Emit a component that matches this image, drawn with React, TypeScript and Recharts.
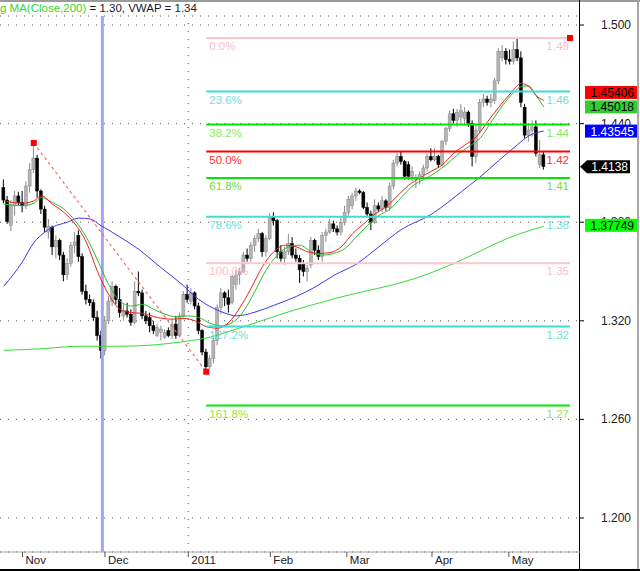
import {
    ComposedChart,
    Bar,
    Line,
    XAxis,
    YAxis,
    CartesianGrid,
    ReferenceLine,
    ReferenceDot,
} from "recharts";

// bar 0 = 25 Oct 2010 ... bar 144 = 13 May 2011 (daily EUR/USD)
const opens = [
    1.4010, 1.3935, 1.3780, 1.3900, 1.3960, 1.3920, 1.3900, 1.4020, 1.4120, 1.4190,
    1.3990, 1.3880, 1.3740, 1.3770, 1.3650, 1.3690, 1.3600, 1.3480, 1.3550, 1.3660,
    1.3720, 1.3590, 1.3380, 1.3330, 1.3310, 1.3220, 1.3110, 1.3020, 1.3200, 1.3320,
    1.3410, 1.3330, 1.3230, 1.3260, 1.3240, 1.3190, 1.3380, 1.3370, 1.3230, 1.3220,
    1.3170, 1.3110, 1.3130, 1.3100, 1.3140, 1.3110, 1.3180, 1.3110, 1.3230, 1.3360,
    1.3320, 1.3370, 1.3290, 1.3140, 1.3010, 1.2920, 1.2970, 1.3080, 1.3280, 1.3370,
    1.3340, 1.3310, 1.3420, 1.3480, 1.3500, 1.3600, 1.3580, 1.3660, 1.3700, 1.3730,
    1.3620, 1.3700, 1.3830, 1.3810, 1.3620, 1.3580, 1.3620, 1.3670, 1.3600, 1.3580,
    1.3545, 1.3500, 1.3540, 1.3690, 1.3630, 1.3590, 1.3720, 1.3740, 1.3790, 1.3760,
    1.3740, 1.3800, 1.3860, 1.3900, 1.3960, 1.3990, 1.3980, 1.3890, 1.3850, 1.3800,
    1.3900, 1.3880, 1.3930, 1.3890, 1.4020, 1.4160, 1.4200, 1.4170, 1.4150, 1.4080,
    1.4060, 1.4070, 1.4090, 1.4130, 1.4200, 1.4180, 1.4200, 1.4150, 1.4290, 1.4370,
    1.4460, 1.4420, 1.4440, 1.4430, 1.4470, 1.4400, 1.4200, 1.4360, 1.4530, 1.4550,
    1.4530, 1.4540, 1.4660, 1.4800, 1.4840, 1.4790, 1.4780, 1.4850, 1.4800, 1.4500,
    1.4330, 1.4360, 1.4380, 1.4150, 1.4210,
];
const highs = [
    1.4060, 1.3960, 1.3935, 1.3990, 1.3985, 1.3990, 1.4050, 1.4160, 1.4282, 1.4210,
    1.4000, 1.3900, 1.3820, 1.3780, 1.3720, 1.3700, 1.3620, 1.3580, 1.3680, 1.3740,
    1.3750, 1.3610, 1.3420, 1.3360, 1.3330, 1.3260, 1.3140, 1.3230, 1.3350, 1.3440,
    1.3420, 1.3400, 1.3300, 1.3310, 1.3270, 1.3440, 1.3500, 1.3390, 1.3260, 1.3250,
    1.3200, 1.3180, 1.3170, 1.3150, 1.3160, 1.3210, 1.3230, 1.3250, 1.3380, 1.3420,
    1.3400, 1.3380, 1.3310, 1.3150, 1.3030, 1.2990, 1.3100, 1.3300, 1.3400, 1.3380,
    1.3390, 1.3480, 1.3510, 1.3520, 1.3620, 1.3640, 1.3680, 1.3720, 1.3760, 1.3740,
    1.3720, 1.3856, 1.3860, 1.3820, 1.3660, 1.3650, 1.3730, 1.3710, 1.3640, 1.3600,
    1.3570, 1.3540, 1.3710, 1.3700, 1.3660, 1.3740, 1.3760, 1.3820, 1.3810, 1.3780,
    1.3830, 1.3900, 1.3960, 1.3980, 1.4010, 1.4000, 1.3990, 1.3920, 1.3870, 1.3940,
    1.3920, 1.3960, 1.3940, 1.4040, 1.4180, 1.4220, 1.4230, 1.4180, 1.4170, 1.4140,
    1.4090, 1.4110, 1.4150, 1.4220, 1.4250, 1.4250, 1.4210, 1.4300, 1.4380, 1.4480,
    1.4490, 1.4490, 1.4520, 1.4500, 1.4480, 1.4420, 1.4400, 1.4550, 1.4580, 1.4570,
    1.4580, 1.4680, 1.4860, 1.4880, 1.4860, 1.4850, 1.4900, 1.4915, 1.4840, 1.4520,
    1.4400, 1.4420, 1.4420, 1.4300, 1.4230,
];
const lows = [
    1.3915, 1.3790, 1.3745, 1.3840, 1.3900, 1.3860, 1.3880, 1.3980, 1.4100, 1.3950,
    1.3850, 1.3740, 1.3700, 1.3600, 1.3580, 1.3570, 1.3440, 1.3450, 1.3530, 1.3610,
    1.3560, 1.3360, 1.3300, 1.3290, 1.3200, 1.3080, 1.2970, 1.2990, 1.3180, 1.3290,
    1.3300, 1.3220, 1.3200, 1.3220, 1.3170, 1.3180, 1.3350, 1.3210, 1.3180, 1.3130,
    1.3120, 1.3100, 1.3080, 1.3090, 1.3100, 1.3090, 1.3090, 1.3100, 1.3220, 1.3310,
    1.3300, 1.3270, 1.3120, 1.2990, 1.2890, 1.2905, 1.2940, 1.3050, 1.3240, 1.3290,
    1.3250, 1.3300, 1.3390, 1.3420, 1.3490, 1.3560, 1.3560, 1.3620, 1.3680, 1.3590,
    1.3590, 1.3690, 1.3780, 1.3580, 1.3560, 1.3540, 1.3600, 1.3580, 1.3560, 1.3430,
    1.3470, 1.3440, 1.3520, 1.3600, 1.3570, 1.3560, 1.3680, 1.3730, 1.3740, 1.3720,
    1.3720, 1.3780, 1.3840, 1.3880, 1.3930, 1.3970, 1.3880, 1.3830, 1.3752, 1.3790,
    1.3860, 1.3860, 1.3870, 1.3870, 1.4000, 1.4140, 1.4150, 1.4060, 1.4060, 1.4050,
    1.4010, 1.4030, 1.4060, 1.4110, 1.4170, 1.4170, 1.4130, 1.4140, 1.4270, 1.4350,
    1.4400, 1.4380, 1.4400, 1.4390, 1.4380, 1.4140, 1.4160, 1.4340, 1.4500, 1.4510,
    1.4500, 1.4520, 1.4640, 1.4780, 1.4760, 1.4760, 1.4760, 1.4780, 1.4500, 1.4310,
    1.4290, 1.4320, 1.4200, 1.4130, 1.4120,
];
const closes = [
    1.3935, 1.3805, 1.3905, 1.3960, 1.3920, 1.3900, 1.4020, 1.4120, 1.4190, 1.3990,
    1.3880, 1.3770, 1.3775, 1.3650, 1.3690, 1.3600, 1.3480, 1.3550, 1.3660, 1.3680,
    1.3590, 1.3380, 1.3330, 1.3310, 1.3220, 1.3110, 1.3020, 1.3200, 1.3320, 1.3410,
    1.3330, 1.3250, 1.3260, 1.3240, 1.3190, 1.3380, 1.3370, 1.3230, 1.3200, 1.3170,
    1.3140, 1.3160, 1.3150, 1.3130, 1.3110, 1.3180, 1.3110, 1.3230, 1.3360, 1.3330,
    1.3370, 1.3290, 1.3140, 1.3010, 1.2920, 1.2970, 1.3080, 1.3280, 1.3370, 1.3340,
    1.3300, 1.3470, 1.3480, 1.3500, 1.3600, 1.3580, 1.3660, 1.3700, 1.3730, 1.3620,
    1.3700, 1.3830, 1.3810, 1.3620, 1.3580, 1.3620, 1.3670, 1.3600, 1.3580, 1.3510,
    1.3500, 1.3520, 1.3690, 1.3630, 1.3590, 1.3720, 1.3740, 1.3790, 1.3760, 1.3740,
    1.3800, 1.3860, 1.3940, 1.3960, 1.3990, 1.3980, 1.3890, 1.3850, 1.3800, 1.3900,
    1.3880, 1.3930, 1.3890, 1.4020, 1.4160, 1.4200, 1.4170, 1.4080, 1.4080, 1.4110,
    1.4070, 1.4090, 1.4130, 1.4200, 1.4180, 1.4200, 1.4150, 1.4290, 1.4370, 1.4460,
    1.4420, 1.4470, 1.4480, 1.4470, 1.4400, 1.4200, 1.4360, 1.4530, 1.4550, 1.4530,
    1.4550, 1.4660, 1.4840, 1.4840, 1.4790, 1.4780, 1.4850, 1.4800, 1.4530, 1.4330,
    1.4360, 1.4380, 1.4220, 1.4210, 1.4138,
];

// moving averages: [bar, value]
const redMA = [
    [0, 1.3930], [5, 1.3915], [8, 1.3930], [10, 1.3960], [13, 1.3910], [16, 1.3860],
    [19, 1.3790], [22, 1.3680], [25, 1.3500], [28, 1.3360], [31, 1.3270], [34, 1.3250],
    [37, 1.3245], [41, 1.3220], [45, 1.3210], [48, 1.3215], [51, 1.3200], [54, 1.3165],
    [57, 1.3155], [60, 1.3190], [63, 1.3280], [66, 1.3400], [69, 1.3530], [72, 1.3620],
    [75, 1.3660], [78, 1.3650], [81, 1.3620], [84, 1.3610], [87, 1.3615], [90, 1.3650],
    [93, 1.3730], [96, 1.3790], [99, 1.3850], [102, 1.3895], [105, 1.3960], [108, 1.4025],
    [111, 1.4070], [114, 1.4110], [117, 1.4150], [120, 1.4220], [123, 1.4270], [126, 1.4320],
    [129, 1.4410], [132, 1.4500], [135, 1.4580], [138, 1.4645], [140, 1.4625], [142, 1.4570],
    [144, 1.4541],
];
const greenMA = [
    [0, 1.3910], [5, 1.3900], [8, 1.3915], [10, 1.3950], [13, 1.3920], [16, 1.3880],
    [19, 1.3810], [22, 1.3710], [25, 1.3570], [28, 1.3420], [31, 1.3320], [34, 1.3290],
    [37, 1.3300], [40, 1.3270], [43, 1.3240], [46, 1.3225], [49, 1.3230], [52, 1.3220],
    [55, 1.3185], [58, 1.3170], [61, 1.3190], [64, 1.3260], [67, 1.3380], [70, 1.3510],
    [73, 1.3600], [76, 1.3650], [79, 1.3660], [82, 1.3620], [85, 1.3600], [88, 1.3610],
    [91, 1.3640], [94, 1.3710], [97, 1.3780], [100, 1.3840], [103, 1.3880], [106, 1.3950],
    [109, 1.4020], [112, 1.4060], [115, 1.4100], [118, 1.4150], [121, 1.4210], [124, 1.4260],
    [127, 1.4310], [130, 1.4410], [133, 1.4510], [136, 1.4590], [138, 1.4625], [140, 1.4630],
    [142, 1.4570], [144, 1.4502],
];
const blueMA = [
    [0, 1.3410], [5, 1.3560], [8, 1.3675], [11, 1.3740], [13, 1.3770], [17, 1.3800],
    [20, 1.3825], [23, 1.3820], [26, 1.3778], [28, 1.3752], [31, 1.3710], [36, 1.3635],
    [42, 1.3522], [47, 1.3432], [52, 1.3330], [57, 1.3265], [59, 1.3247], [62, 1.3230],
    [67, 1.3253], [72, 1.3294], [78, 1.3348], [83, 1.3405], [88, 1.3476], [94, 1.3545],
    [100, 1.3650], [106, 1.3755], [114, 1.3848], [119, 1.3930], [122, 1.3985], [127, 1.4075],
    [132, 1.4175], [137, 1.4272], [140, 1.4325], [144, 1.4355],
];
const longMA = [
    [0, 1.3020], [10, 1.3030], [20, 1.3045], [30, 1.3045], [38, 1.3050], [44, 1.3062],
    [50, 1.3080], [55, 1.3100], [60, 1.3135], [65, 1.3172], [70, 1.3210], [76, 1.3255],
    [82, 1.3295], [89, 1.3340], [96, 1.3378], [103, 1.3415], [110, 1.3460], [117, 1.3520],
    [124, 1.3590], [131, 1.3668], [137, 1.3725], [144, 1.3775],
];

// fibonacci retracement
const fibPct = ["0.0%", "23.6%", "38.2%", "50.0%", "61.8%", "78.6%", "100.0%", "127.2%", "161.8%"];
const fibLevels = [1.4921, 1.4595, 1.4394, 1.4230, 1.4069, 1.3834, 1.3551, 1.3165, 1.2684];
const fibPrices = ["1.49", "1.46", "1.44", "1.42", "1.41", "1.38", "1.35", "1.32", "1.27"];
const fibStart = 54;
const fibEnd = 151;

const swingHigh = { i: 8, v: 1.4282 };
const swingLow = { i: 54, v: 1.2890 };
const markerBar = 26.3;

const monthTicks = [5, 27, 49.2, 71.1, 91.5, 114.2, 134.7];
const monthLabels = ["Nov", "Dec", "2011", "Feb", "Mar", "Apr", "May"];
const yearTick = 49.2;
const priceTicks = [1.2, 1.26, 1.32, 1.38, 1.44, 1.5];

// last values shown in the price scale
const tagValues = [1.45018, 1.45406, 1.43545, 1.37749];
const tagTexts = ["1.45018", "1.45406", "1.43545", "1.37749"];
const lastClose = 1.4138;

const X_DOMAIN = [-1, 153.67];
const Y_DOMAIN = [1.1793, 1.5055];
const FONT = "'Liberation Sans', Arial, sans-serif";

const fibLine = ["#ffc4cc", "#40dcd4", "#00e800", "#ff0000", "#00e800", "#40dcd4", "#ffc4cc", "#40dcd4", "#00e800"];
const fibText = ["#ffbcc6", "#6ee0dc", "#8be860", "#ff3030", "#66dd44", "#6ee0dc", "#ffbcc6", "#6ee0dc", "#90e840"];
const tagFill = ["#33cc33", "#ff0000", "#0000ff", "#00ff00"];
const tagInk = ["#000", "#000", "#fff", "#000"];
const tagShift = [0, -8, 0, -1];

const rows = closes.map((c, i) => ({
    i,
    open: opens[i],
    high: highs[i],
    low: lows[i],
    close: c,
    red: null as number | null,
    green: null as number | null,
    blue: null as number | null,
    long: null as number | null,
}));
redMA.forEach(([i, v]) => (rows[i].red = v));
greenMA.forEach(([i, v]) => (rows[i].green = v));
blueMA.forEach(([i, v]) => (rows[i].blue = v));
longMA.forEach(([i, v]) => (rows[i].long = v));

const Candle = (props: any) => {
    const { x, y, width, height, payload } = props;
    if (!payload || x == null) return null;
    const top = Math.min(y, y + height);
    const h = Math.abs(height);
    const span = payload.high - payload.low || 1;
    const py = (v: number) => top + ((payload.high - v) / span) * h;
    const up = payload.close >= payload.open;
    const cx = x + width / 2;
    const b1 = py(Math.max(payload.open, payload.close));
    const b2 = py(Math.min(payload.open, payload.close));
    return (
        <g>
            <line x1={cx} x2={cx} y1={top} y2={top + h} stroke={up ? "#8a8a8a" : "#000"} strokeWidth={1} />
            <rect
                x={x}
                y={b1}
                width={width}
                height={Math.max(1, b2 - b1)}
                fill={up ? "#b4b4b4" : "#000"}
                stroke={up ? "#888" : "#000"}
                strokeWidth={0.5}
            />
        </g>
    );
};

const MonthTick = (props: any) => {
    const { x, y, index } = props;
    return (
        <g>
            <line x1={x} x2={x} y1={y} y2={y + 5} stroke="#555" />
            <text x={x + 3} y={y + 12} fontSize={11.5} fontFamily={FONT} fill="#202020">
                {monthLabels[index]}
            </text>
        </g>
    );
};

const PriceTick = (props: any) => {
    const { x, y, payload } = props;
    return (
        <text x={x + 47} y={y + 4} textAnchor="end" fontSize={12} fontFamily={FONT} fill="#202020">
            {Number(payload.value).toFixed(3)}
        </text>
    );
};

const FibLabel = ({ viewBox, pct, price, color }: any) => {
    if (!viewBox) return null;
    const { x, y, width } = viewBox;
    return (
        <g fontSize={11.5} fontFamily={FONT} fill={color}>
            <text x={x + 3} y={y + 12}>{pct}</text>
            <text x={x + width - 1} y={y + 12} textAnchor="end">{price}</text>
        </g>
    );
};

const ValueTag = ({ viewBox, text, fill, ink, shift }: any) => {
    if (!viewBox) return null;
    const left = viewBox.x + viewBox.width + 5;
    const cy = viewBox.y + shift;
    return (
        <g>
            <rect x={left} y={cy - 6.5} width={52} height={13} fill={fill} />
            <text x={left + 49} y={cy + 4.5} textAnchor="end" fontSize={12} fontFamily={FONT} fill={ink}>
                {text}
            </text>
        </g>
    );
};

const CloseTag = ({ viewBox, text }: any) => {
    if (!viewBox) return null;
    const tip = viewBox.x + viewBox.width;
    const cy = viewBox.y;
    const pts = `${tip},${cy} ${tip + 7},${cy - 6.5} ${tip + 50},${cy - 6.5} ${tip + 50},${cy + 6.5} ${tip + 7},${cy + 6.5}`;
    return (
        <g>
            <polygon points={pts} fill="#000" />
            <text x={tip + 48} y={cy + 4.5} textAnchor="end" fontSize={12} fontFamily={FONT} fill="#fff">
                {text}
            </text>
        </g>
    );
};

const Square = (p: any) => <rect x={p.cx - 3} y={p.cy - 3} width={6} height={6} fill="#ff0000" />;

export default function App() {
    return (
        <div style={{ position: "absolute", left: 0, top: 0, width: 640, height: 571, background: "#fff", overflow: "hidden" }}>
            <div style={{ position: "absolute", left: 0, top: 0, width: 640, height: 2, background: "#9a9a9a" }} />
            <div style={{ position: "absolute", left: 579, top: 0, width: 1, height: 571, background: "#000" }} />
            <div style={{ position: "absolute", left: 637, top: 0, width: 2, height: 571, background: "#a8a8a8" }} />
            <div style={{ position: "absolute", left: 0, top: 569, width: 640, height: 2, background: "#000" }} />
            <div
                style={{
                    position: "absolute",
                    left: 0,
                    top: 2,
                    fontFamily: FONT,
                    fontSize: 11.5,
                    lineHeight: "13px",
                    whiteSpace: "nowrap",
                }}
            >
                <span style={{ color: "#33d633" }}>g MA(Close,200)</span>
                <span style={{ color: "#1a1a2a" }}> = 1.30, VWAP = 1.34</span>
            </div>

            {/* price chart */}
            <div style={{ position: "absolute", left: 0, top: 0 }}>
                <ComposedChart
                    width={640}
                    height={571}
                    data={rows}
                    margin={{ top: 16, right: 0, bottom: 0, left: 0 }}
                >
                    <CartesianGrid horizontal vertical={false} stroke="#505050" strokeDasharray="1 7" />
                    <XAxis
                        dataKey="i"
                        type="number"
                        domain={X_DOMAIN}
                        allowDataOverflow
                        ticks={monthTicks}
                        interval={0}
                        height={19}
                        tickSize={0}
                        tickMargin={0}
                        tickLine={false}
                        axisLine={{ stroke: "#a0a0a0" }}
                        tick={<MonthTick />}
                    />
                    <YAxis
                        orientation="right"
                        type="number"
                        width={60}
                        domain={Y_DOMAIN}
                        allowDataOverflow
                        ticks={priceTicks}
                        interval={0}
                        axisLine={false}
                        tickSize={4}
                        tickMargin={0}
                        tickLine={{ stroke: "#000" }}
                        tick={<PriceTick />}
                    />
                    <ReferenceLine x={yearTick} stroke="#505050" strokeDasharray="1 7" />
                    <ReferenceLine x={markerBar} stroke="#a4a4f4" strokeWidth={3} />

                    <Line type="monotone" dataKey="long" stroke="#33dd33" strokeWidth={1} dot={false} activeDot={false} connectNulls isAnimationActive={false} />
                    <Line type="monotone" dataKey="blue" stroke="#3a3aee" strokeWidth={1} dot={false} activeDot={false} connectNulls isAnimationActive={false} />

                    <Bar
                        dataKey={(d: any) => [d.low, d.high]}
                        barSize={3}
                        shape={<Candle />}
                        isAnimationActive={false}
                    />

                    <Line type="monotone" dataKey="green" stroke="#2cbb2c" strokeWidth={1} dot={false} activeDot={false} connectNulls isAnimationActive={false} />
                    <Line type="monotone" dataKey="red" stroke="#ee2020" strokeWidth={1} dot={false} activeDot={false} connectNulls isAnimationActive={false} />

                    <ReferenceLine
                        segment={[{ x: swingHigh.i, y: swingHigh.v }, { x: swingLow.i, y: swingLow.v }]}
                        stroke="#ff6a6a"
                        strokeWidth={1.2}
                        strokeDasharray="3 3"
                    />

                    {fibLevels.map((lvl, k) => (
                        <ReferenceLine
                            key={"fib" + k}
                            segment={[{ x: fibStart, y: lvl }, { x: fibEnd, y: lvl }]}
                            stroke={fibLine[k]}
                            strokeWidth={2}
                            label={<FibLabel pct={fibPct[k]} price={fibPrices[k]} color={fibText[k]} />}
                        />
                    ))}

                    <ReferenceDot x={swingHigh.i} y={swingHigh.v} r={3} shape={Square} />
                    <ReferenceDot x={swingLow.i} y={swingLow.v} r={3} shape={Square} />
                    <ReferenceDot x={fibEnd} y={fibLevels[0]} r={3} shape={Square} />
                </ComposedChart>
            </div>

            {/* value tags in the price scale, drawn over the axis labels */}
            <div style={{ position: "absolute", left: 0, top: 0 }}>
                <ComposedChart
                    width={640}
                    height={571}
                    data={rows}
                    margin={{ top: 16, right: 60, bottom: 19, left: 0 }}
                >
                    <XAxis dataKey="i" type="number" domain={X_DOMAIN} allowDataOverflow hide />
                    <YAxis type="number" domain={Y_DOMAIN} allowDataOverflow hide />
                    {tagValues.map((v, k) => (
                        <ReferenceLine
                            key={"tag" + k}
                            y={v}
                            stroke="none"
                            label={<ValueTag text={tagTexts[k]} fill={tagFill[k]} ink={tagInk[k]} shift={tagShift[k]} />}
                        />
                    ))}
                    <ReferenceLine y={lastClose} stroke="none" label={<CloseTag text={String(lastClose)} />} />
                </ComposedChart>
            </div>
        </div>
    );
}
